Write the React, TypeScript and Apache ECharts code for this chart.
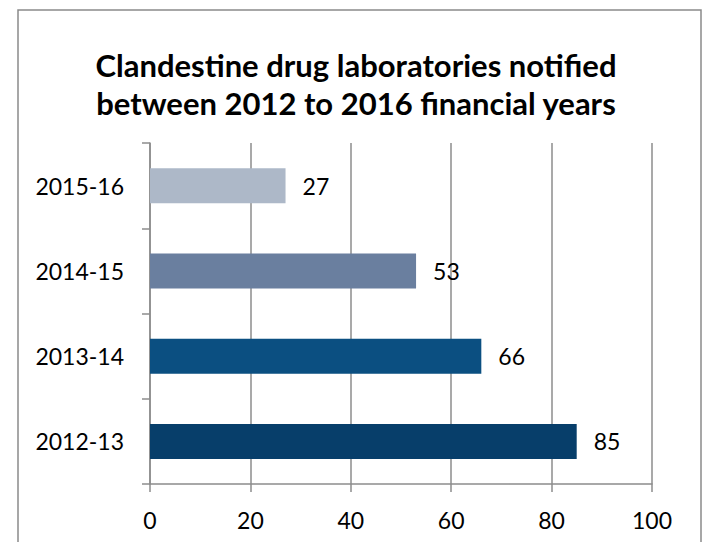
import React, { useEffect, useRef } from "react";
import * as echarts from "echarts";

const categories = ["2012-13", "2013-14", "2014-15", "2015-16"];
const values = [85, 66, 53, 27];
const barColors = ["#073E6A", "#0B4F81", "#6A7F9F", "#ADB8C8"];
const xTicks = [0, 20, 40, 60, 80, 100];
const titleText = "Clandestine drug laboratories notified\nbetween 2012 to 2016 financial years";

export default function App() {
  const ref = useRef<HTMLDivElement>(null);
  useEffect(() => {
    if (!ref.current) return;
    const chart = echarts.init(ref.current, null, { renderer: "svg" });
    const font = "Lato, 'Open Sans', sans-serif";
    chart.setOption({
      animation: false,
      backgroundColor: "#ffffff",
      textStyle: { fontFamily: font },
      title: {
        text: titleText,
        left: 351,
        textAlign: "center",
        top: 41,
        textStyle: {
          fontFamily: font,
          fontSize: 31,
          fontWeight: "bold",
          color: "#000000",
          lineHeight: 38,
        },
      },
      graphic: [
        {
          type: "rect",
          shape: { x: 18, y: 10, width: 683, height: 560 },
          style: { fill: "none", stroke: "#8a8a8a", lineWidth: 1.5 },
          silent: true,
        },
      ],
      grid: { left: 150, right: 58, top: 143, bottom: 58, containLabel: false },
      xAxis: {
        type: "value",
        min: xTicks[0],
        max: xTicks[xTicks.length - 1],
        interval: 20,
        axisLine: { show: true, lineStyle: { color: "#8c8c8c", width: 1.5 } },
        axisTick: { show: true, length: 8, lineStyle: { color: "#8c8c8c", width: 1.5 } },
        splitLine: { show: true, lineStyle: { color: "#8c8c8c", width: 1.5 } },
        axisLabel: { fontFamily: font, fontSize: 23, color: "#000000", margin: 24 },
      },
      yAxis: {
        type: "category",
        data: categories,
        axisLine: { show: true, lineStyle: { color: "#8c8c8c", width: 1.5 } },
        axisTick: { show: true, length: 8, alignWithLabel: false, lineStyle: { color: "#8c8c8c", width: 1.5 } },
        axisLabel: { fontFamily: font, fontSize: 23, color: "#000000", margin: 26 },
      },
      series: [
        {
          type: "bar",
          data: values.map((v, i) => ({ value: v, itemStyle: { color: barColors[i] } })),
          barWidth: 35,
          label: {
            show: true,
            position: "right",
            distance: 17,
            fontFamily: font,
            fontSize: 23,
            color: "#000000",
          },
        },
      ],
    });
    return () => chart.dispose();
  }, []);
  return (
    <div
      ref={ref}
      style={{ position: "fixed", left: 0, top: 0, width: 710, height: 542 }}
    />
  );
}
